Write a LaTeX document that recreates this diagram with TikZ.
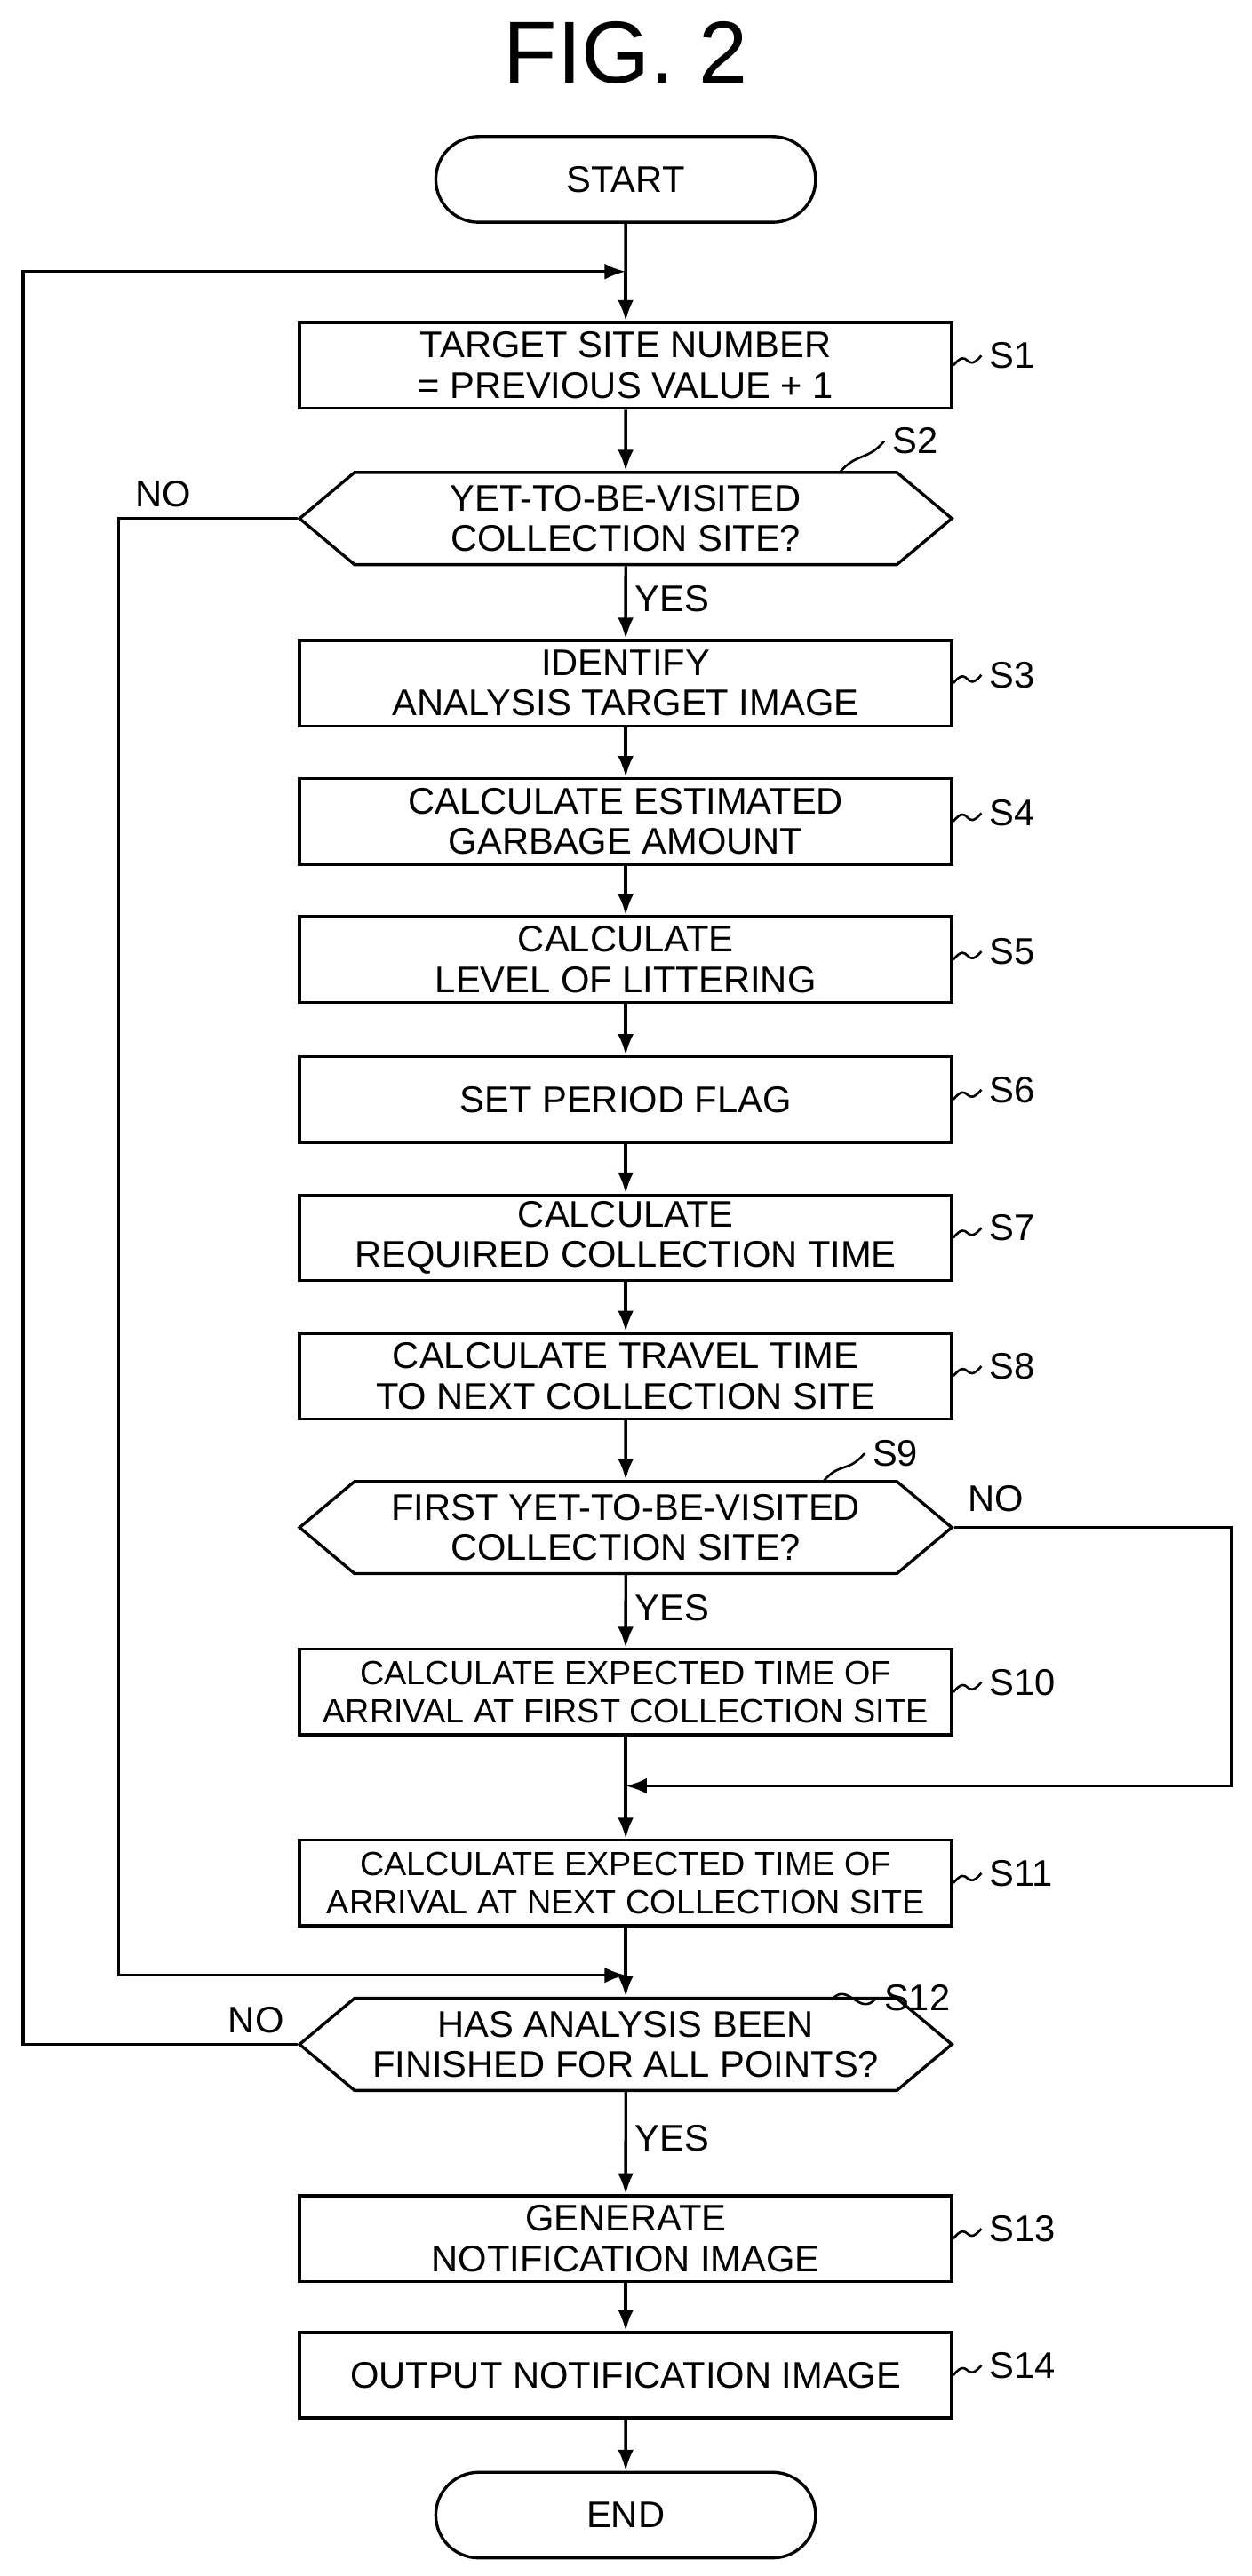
\documentclass[tikz,border=0pt]{standalone}
\usepackage{fontspec}
\setmainfont{Liberation Sans}
\usetikzlibrary{shapes.misc,shapes.symbols,arrows.meta}
\tikzset{
  term/.style={draw, line width=1.3pt, rounded rectangle, minimum width=6cm, minimum height=1.3cm},
  box/.style={draw, line width=1.3pt, minimum width=9.9cm, minimum height=1.3cm, align=center, inner sep=1pt},
  dec/.style={draw, line width=1.3pt, signal, signal to=east and west, signal pointer angle=80,
    minimum width=9.9cm, minimum height=1.4cm, align=center, inner sep=1pt},
  line/.style={line width=1.3pt},
  arr/.style={line width=1.3pt, -{Latex[length=3.2mm,width=2.4mm]}},
  tag/.style={font=\fontsize{16}{18}\selectfont},
}
\newcommand{\squig}[2]{\draw[line width=1pt] (#1) .. controls +(0.25cm,0.3cm) and +(-0.25cm,-0.3cm) .. (#2);}
\begin{document}
\begin{tikzpicture}[x=0.025cm, y=-0.025cm, font=\fontsize{16}{17.5}\selectfont]
\useasboundingbox (0,0) rectangle (760,1565);
% title
\node[font=\fontsize{38}{40}\selectfont] (title) at (380,32) {FIG. 2};

% terminals and steps
\node[term] (start) at (380,109) {START};
\coordinate (join1) at (380,165);
\node[box] (s1) at (380,222) {TARGET SITE NUMBER\\= PREVIOUS VALUE + 1};
\node[dec] (s2) at (380,315) {YET-TO-BE-VISITED\\COLLECTION SITE?};
\node[box] (s3) at (380,415) {IDENTIFY\\ANALYSIS TARGET IMAGE};
\node[box] (s4) at (380,499) {CALCULATE ESTIMATED\\GARBAGE AMOUNT};
\node[box] (s5) at (380,583) {CALCULATE\\LEVEL OF LITTERING};
\node[box] (s6) at (380,668) {SET PERIOD FLAG};
\node[box] (s7) at (380,752) {CALCULATE\\REQUIRED COLLECTION TIME};
\node[box] (s8) at (380,836) {CALCULATE TRAVEL TIME\\TO NEXT COLLECTION SITE};
\node[dec] (s9) at (380,928) {FIRST YET-TO-BE-VISITED\\COLLECTION SITE?};
\node[box, font=\fontsize{14.5}{16.5}\selectfont] (s10) at (380,1028) {CALCULATE EXPECTED TIME OF\\ARRIVAL AT FIRST COLLECTION SITE};
\coordinate (join2) at (380,1085);
\node[box, font=\fontsize{14.5}{16.5}\selectfont] (s11) at (380,1144) {CALCULATE EXPECTED TIME OF\\ARRIVAL AT NEXT COLLECTION SITE};
\coordinate (join3) at (380,1200);
\node[dec] (s12) at (380,1242) {HAS ANALYSIS BEEN\\FINISHED FOR ALL POINTS?};
\node[box] (s13) at (380,1360) {GENERATE\\NOTIFICATION IMAGE};
\node[box] (s14) at (380,1443) {OUTPUT NOTIFICATION IMAGE};
\node[term] (end) at (380,1528) {END};

% step tags
\node[tag, anchor=west] (l1) at (596,216) {S1};
\node[tag, anchor=west] (l2) at (537,268) {S2};
\node[tag, anchor=west] (l3) at (596,410) {S3};
\node[tag, anchor=west] (l4) at (596,494) {S4};
\node[tag, anchor=west] (l5) at (596,578) {S5};
\node[tag, anchor=west] (l6) at (596,662) {S6};
\node[tag, anchor=west] (l7) at (596,746) {S7};
\node[tag, anchor=west] (l8) at (596,830) {S8};
\node[tag, anchor=west] (l9) at (525,883) {S9};
\node[tag, anchor=west] (l10) at (596,1022) {S10};
\node[tag, anchor=west] (l11) at (596,1138) {S11};
\node[tag, anchor=west] (l12) at (532,1214) {S12};
\node[tag, anchor=west] (l13) at (596,1354) {S13};
\node[tag, anchor=west] (l14) at (596,1437) {S14};
\squig{s1.east}{l1.west}
\squig{s3.east}{l3.west}
\squig{s4.east}{l4.west}
\squig{s5.east}{l5.west}
\squig{s6.east}{l6.west}
\squig{s7.east}{l7.west}
\squig{s8.east}{l8.west}
\squig{s10.east}{l10.west}
\squig{s11.east}{l11.west}
\squig{s13.east}{l13.west}
\squig{s14.east}{l14.west}
\coordinate (c2) at (510,287);
\coordinate (c9) at (500,900);
\coordinate (c12) at (505,1215);
\squig{c2}{l2.west}
\squig{c9}{l9.west}
\squig{c12}{l12.west}

% main flow
\draw[line] (start) -- (join1);
\draw[arr] (join1) -- (s1);
\draw[arr] (s1) -- (s2);
\draw[arr] (s2) -- node[pos=0.45, right] {YES} (s3);
\draw[arr] (s3) -- (s4);
\draw[arr] (s4) -- (s5);
\draw[arr] (s5) -- (s6);
\draw[arr] (s6) -- (s7);
\draw[arr] (s7) -- (s8);
\draw[arr] (s8) -- (s9);
\draw[arr] (s9) -- node[pos=0.45, right] {YES} (s10);
\draw[line] (s10) -- (join2);
\draw[arr] (join2) -- (s11);
\draw[line] (s11) -- (join3);
\draw[arr] (join3) -- (s12);
\draw[arr] (s12) -- node[pos=0.45, right] {YES} (s13);
\draw[arr] (s13) -- (s14);
\draw[arr] (s14) -- (end);

% branches
\draw[arr] (s2.west) -- (72,315) node[pos=0.75, above=1pt] {NO} -- (72,1200) -- (join3);
\draw[arr] (s9.east) -- (748,928) node[pos=0.15, above=3pt] {NO} -- (748,1085) -- (join2);
\draw[arr] (s12.west) -- (14,1242) node[pos=0.15, above=1pt] {NO} -- (14,165) -- (join1);
\end{tikzpicture}
\end{document}
